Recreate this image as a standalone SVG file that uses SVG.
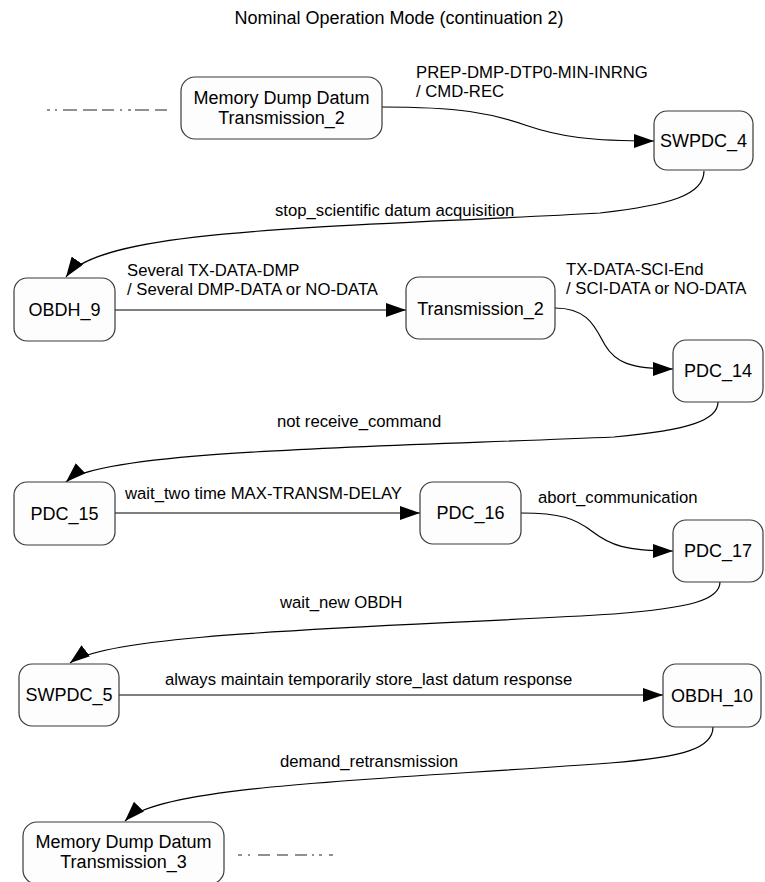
<svg xmlns="http://www.w3.org/2000/svg" width="765" height="882" viewBox="0 0 765 882">
<style>
.node rect{fill:#fdfdfd;stroke:#3a3a3a;stroke-width:1.2}
.nt{font-family:"Liberation Sans",Arial,sans-serif;font-size:18px;fill:#000;text-anchor:middle}
.lbl{font-family:"Liberation Sans",Arial,sans-serif;font-size:16.7px;fill:#000}
.title{font-family:"Liberation Sans",Arial,sans-serif;font-size:18px;fill:#000;text-anchor:middle}
.edge{fill:none;stroke:#000;stroke-width:1.2;marker-end:url(#ah)}
.dash{fill:none;stroke:#222;stroke-width:1.2}
</style>
<defs>
<marker id="ah" markerWidth="20" markerHeight="14" refX="20" refY="7" orient="auto" markerUnits="userSpaceOnUse">
<path d="M0,0 L20,7 L0,14 z" fill="#000"/>
</marker>
</defs>
<rect width="765" height="882" fill="#fff"/>
<text class="title" x="399" y="24">Nominal Operation Mode (continuation 2)</text>

<path class="dash" d="M47,110 H167" stroke-dasharray="3 5 2 6 14 6 14 5 12 6 2 6 3 4 14 6 14"/>
<path class="dash" d="M238,855 H333" stroke-dasharray="4 6 2 8 12 7 11 7 12 5 2 5 3 7 5"/>

<g id="connectors">
<path class="edge" d="M382,107 C460,107 490,113 525,125 C560,137 590,141 654,141"/>
<path class="edge" d="M704,171 C704,195 670,205 600,213 C330,228 100,228 66,277"/>
<path class="edge" d="M115,310 L406,310"/>
<path class="edge" d="M555,308 C590,308 596,330 605,345 C615,362 630,369 673,369"/>
<path class="edge" d="M718,402 C718,420 690,430 614,437 C380,447 100,450 66,482"/>
<path class="edge" d="M115,513 L420,513"/>
<path class="edge" d="M521,513 C560,513 575,518 593,532 C610,545 625,551 673,551"/>
<path class="edge" d="M720,582 C720,600 690,608 614,614 C380,628 110,632 70,663"/>
<path class="edge" d="M119,695 L663,695"/>
<path class="edge" d="M713,727 C713,748 685,757 610,763 C380,780 160,785 125,821"/>
</g>

<g id="labels">
<text class="lbl" x="416" y="78">PREP-DMP-DTP0-MIN-INRNG</text>
<text class="lbl" x="416" y="97">/ CMD-REC</text>
<text class="lbl" x="275" y="216">stop_scientific datum acquisition</text>
<text class="lbl" x="127" y="276">Several TX-DATA-DMP</text>
<text class="lbl" x="127" y="295">/ Several DMP-DATA or NO-DATA</text>
<text class="lbl" x="566" y="275">TX-DATA-SCI-End</text>
<text class="lbl" x="566" y="294">/ SCI-DATA or NO-DATA</text>
<text class="lbl" x="277" y="427">not receive_command</text>
<text class="lbl" x="125" y="499">wait_two time MAX-TRANSM-DELAY</text>
<text class="lbl" x="538" y="503">abort_communication</text>
<text class="lbl" x="280" y="608">wait_new OBDH</text>
<text class="lbl" x="165" y="685">always maintain temporarily store_last datum response</text>
<text class="lbl" x="280" y="767">demand_retransmission</text>
</g>

<g id="mddt2" class="node"><rect x="181" y="77" width="201" height="62" rx="14"/>
<text class="nt" x="281.5" y="104">Memory Dump Datum</text><text class="nt" x="281.5" y="124">Transmission_2</text></g>
<g id="swpdc4" class="node"><rect x="654" y="111" width="99" height="59" rx="13"/>
<text class="nt" x="703.5" y="147">SWPDC_4</text></g>
<g id="obdh9" class="node"><rect x="14" y="278" width="101" height="63" rx="13"/>
<text class="nt" x="64.5" y="316">OBDH_9</text></g>
<g id="transmission2" class="node"><rect x="406" y="277" width="149" height="62" rx="13"/>
<text class="nt" x="480.5" y="315">Transmission_2</text></g>
<g id="pdc14" class="node"><rect x="673" y="340" width="90" height="62" rx="13"/>
<text class="nt" x="718" y="377">PDC_14</text></g>
<g id="pdc15" class="node"><rect x="14" y="482" width="101" height="63" rx="13"/>
<text class="nt" x="64.5" y="520">PDC_15</text></g>
<g id="pdc16" class="node"><rect x="420" y="482" width="101" height="62" rx="13"/>
<text class="nt" x="470.5" y="519">PDC_16</text></g>
<g id="pdc17" class="node"><rect x="673" y="520" width="90" height="62" rx="13"/>
<text class="nt" x="718" y="557">PDC_17</text></g>
<g id="swpdc5" class="node"><rect x="19" y="664" width="100" height="62" rx="13"/>
<text class="nt" x="69" y="701">SWPDC_5</text></g>
<g id="obdh10" class="node"><rect x="663" y="664" width="98" height="63" rx="13"/>
<text class="nt" x="712" y="702">OBDH_10</text></g>
<g id="mddt3" class="node"><rect x="23" y="822" width="201" height="62" rx="14"/>
<text class="nt" x="123.5" y="848">Memory Dump Datum</text><text class="nt" x="123.5" y="868">Transmission_3</text></g>
</svg>
